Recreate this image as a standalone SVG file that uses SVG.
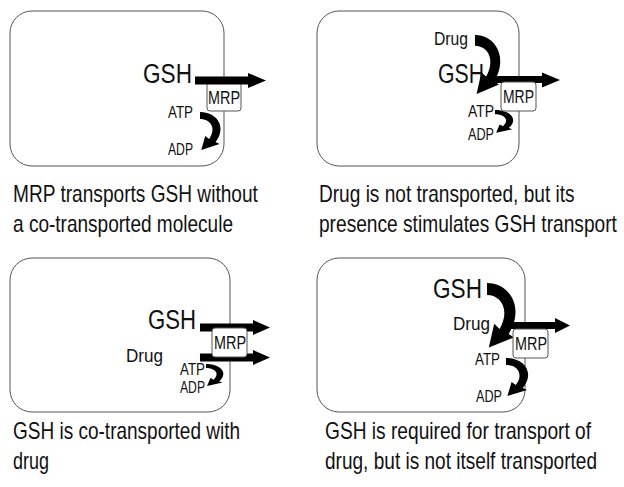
<svg xmlns="http://www.w3.org/2000/svg" xmlns:xlink="http://www.w3.org/1999/xlink" width="624" height="487" viewBox="0 0 624 487">
<style>
  text { font-family: "Liberation Sans", Arial, sans-serif; fill: #111; }
  .cell { fill: #fff; stroke: #555; stroke-width: 1; }
  .mrp { fill: #fff; stroke: #555; stroke-width: 1; }
  .arr { fill: #000; }
  .big { font-size: 27px; }
  .mid { font-size: 19px; }
  .sm { font-size: 16px; }
  .mrpt { font-size: 18px; }
  .cap { font-size: 23px; }
</style>
<defs>
  <path id="curl" d="M0,0 C13,0 21,15 12,30 L15,32 L1,38 L4,24 L7,27 C13,16 8,7 0,7 Z"/>
</defs>
<rect width="624" height="487" fill="#fff"/>

<!-- Panel 1 -->
<g id="panel1">
  <rect class="cell" x="10" y="11" width="214" height="155" rx="22"/>
  <rect class="mrp" x="207" y="82" width="34" height="29" rx="3"/>
  <text class="big" x="143" y="83" textLength="49" lengthAdjust="spacingAndGlyphs">GSH</text>
  <text class="mrpt" x="208" y="104" textLength="32" lengthAdjust="spacingAndGlyphs">MRP</text>
  <text class="sm" x="168" y="118" textLength="25" lengthAdjust="spacingAndGlyphs">ATP</text>
  <text class="sm" x="168" y="155" textLength="25" lengthAdjust="spacingAndGlyphs">ADP</text>
</g>
<g id="caption1" transform="scale(0.83,1)">
  <text class="cap" x="15.7" y="202" textLength="295" lengthAdjust="spacingAndGlyphs">MRP transports GSH without</text>
  <text class="cap" x="15.7" y="232" textLength="265" lengthAdjust="spacingAndGlyphs">a co-transported molecule</text>
</g>

<!-- Panel 2 -->
<g id="panel2">
  <rect class="cell" x="317" y="11" width="202" height="155" rx="22"/>
  <text class="mid" x="434" y="45" textLength="34" lengthAdjust="spacingAndGlyphs">Drug</text>
  <text class="big" x="438" y="83" textLength="46" lengthAdjust="spacingAndGlyphs">GSH</text>
  <text class="sm" x="468" y="117" textLength="26" lengthAdjust="spacingAndGlyphs">ATP</text>
  <text class="sm" x="468" y="140" textLength="26" lengthAdjust="spacingAndGlyphs">ADP</text>
</g>
<g id="caption2" transform="scale(0.83,1)">
  <text class="cap" x="384.3" y="202" textLength="308" lengthAdjust="spacingAndGlyphs">Drug is not transported, but its</text>
  <text class="cap" x="384.3" y="232" textLength="359" lengthAdjust="spacingAndGlyphs">presence stimulates GSH transport</text>
</g>

<!-- Panel 3 -->
<g id="panel3">
  <rect class="cell" x="10" y="258" width="220" height="154" rx="22"/>
  <text class="big" x="148" y="329" textLength="48" lengthAdjust="spacingAndGlyphs">GSH</text>
  <text class="mid" x="126" y="362" textLength="37" lengthAdjust="spacingAndGlyphs">Drug</text>
  <text class="sm" x="180" y="375" textLength="25" lengthAdjust="spacingAndGlyphs">ATP</text>
  <text class="sm" x="180" y="393" textLength="25" lengthAdjust="spacingAndGlyphs">ADP</text>
</g>
<g id="caption3" transform="scale(0.83,1)">
  <text class="cap" x="15.7" y="439" textLength="273.5" lengthAdjust="spacingAndGlyphs">GSH is co-transported with</text>
  <text class="cap" x="15.7" y="469" textLength="43.4" lengthAdjust="spacingAndGlyphs">drug</text>
</g>

<!-- Panel 4 -->
<g id="panel4">
  <rect class="cell" x="317" y="258" width="208" height="154" rx="22"/>
  <text class="big" x="433" y="298" textLength="49" lengthAdjust="spacingAndGlyphs">GSH</text>
  <text class="mid" x="453" y="330" textLength="37" lengthAdjust="spacingAndGlyphs">Drug</text>
  <text class="sm" x="475" y="365" textLength="25" lengthAdjust="spacingAndGlyphs">ATP</text>
  <text class="sm" x="476" y="402" textLength="26" lengthAdjust="spacingAndGlyphs">ADP</text>
</g>
<g id="caption4" transform="scale(0.83,1)">
  <text class="cap" x="391.6" y="439" textLength="320.5" lengthAdjust="spacingAndGlyphs">GSH is required for transport of</text>
  <text class="cap" x="391.6" y="469" textLength="327.7" lengthAdjust="spacingAndGlyphs">drug, but is not itself transported</text>
</g>

<!-- Connectors -->
<g id="connectors" class="arr">
  <!-- panel 1 -->
  <path d="M195,76.5 H248 V73 L266,80.5 L248,88 V84.5 H195 Z"/>
  <use xlink:href="#curl" transform="translate(200,112) scale(1.3,1.0)"/>
  <!-- panel 2 -->
  <path d="M485,76 H542 V72.5 L560,80 L542,87.5 V83 H485 Z"/>
  <use xlink:href="#curl" transform="translate(475,35) scale(1.6,1.55)"/>
  <use xlink:href="#curl" transform="translate(495,110) scale(1.15,0.6)"/>
  <!-- panel 3 -->
  <path d="M200,323.5 H253 V320 L270,327.5 L253,335 V331.5 H200 Z"/>
  <path d="M200,353.5 H253 V350 L270,357.5 L253,365 V361.5 H200 Z"/>
  <use xlink:href="#curl" transform="translate(206,364) scale(1.1,0.58)"/>
  <!-- panel 4 -->
  <path d="M503,322 H555 V318 L570,325.5 L555,333 V329 H503 Z"/>
  <use xlink:href="#curl" transform="translate(487,283) scale(1.8,1.7)"/>
  <use xlink:href="#curl" transform="translate(506,358) scale(1.4,1.0)"/>
</g>

<!-- MRP boxes drawn above arrows (panels 2-4) -->
<g id="mrp2">
  <rect class="mrp" x="501" y="82" width="35" height="29" rx="3"/>
  <text class="mrpt" x="503" y="103" textLength="31" lengthAdjust="spacingAndGlyphs">MRP</text>
</g>
<g id="mrp3">
  <rect class="mrp" x="212" y="328" width="35" height="29" rx="3"/>
  <text class="mrpt" x="214" y="349" textLength="32" lengthAdjust="spacingAndGlyphs">MRP</text>
</g>
<g id="mrp4">
  <rect class="mrp" x="513" y="329" width="35" height="29" rx="3"/>
  <text class="mrpt" x="515" y="350" textLength="32" lengthAdjust="spacingAndGlyphs">MRP</text>
</g>
</svg>
